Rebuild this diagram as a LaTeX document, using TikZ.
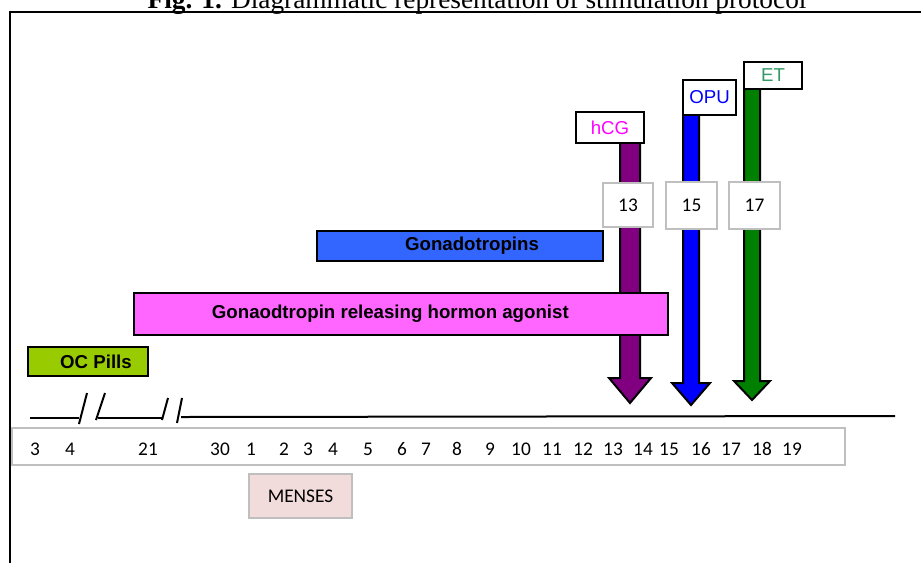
\documentclass[tikz,border=0pt]{standalone}
\usepackage{fontspec}
\setmainfont{Liberation Sans}
\newfontfamily\calfont{Carlito}
\newfontfamily\titlefont{Liberation Serif}

\definecolor{ocgreen}{HTML}{99CC00}
\definecolor{agopink}{HTML}{FF66FF}
\definecolor{gonablue}{HTML}{3366FF}
\definecolor{hcgpurple}{HTML}{800080}
\definecolor{opublue}{HTML}{0000FF}
\definecolor{etgreen}{HTML}{008000}
\definecolor{hcgtext}{HTML}{FF00FF}
\definecolor{ettext}{HTML}{339966}
\definecolor{boxgray}{HTML}{BFBFBF}
\definecolor{mensespink}{HTML}{F2DCDB}

\tikzset{
  bar/.style={draw=black, line width=1pt, inner sep=0pt, font=\bfseries\fontsize{14}{16}\selectfont},
  tag/.style={draw=black, fill=white, line width=1.5pt, inner sep=0pt, font=\fontsize{14}{16}\selectfont},
  graybox/.style={draw=boxgray, line width=1pt, fill=white, inner sep=0pt, font=\calfont\fontsize{14.5}{17}\selectfont},
  daynum/.style={inner sep=0pt, font=\calfont\fontsize{14.5}{17}\selectfont},
  fatarrow/.style={draw=black, line width=1.5pt, line join=miter},
  timeline/.style={line width=1.5pt},
}

\begin{document}
\begin{tikzpicture}[x=0.75pt, y=-0.75pt]
			\useasboundingbox (0,0) rectangle (921,562);
			% frame and caption
			\draw[line width=2pt] (10,600) -- (10,12) -- (940,12);
			\node[anchor=base, inner sep=0pt, font=\titlefont\fontsize{20.5}{24}\selectfont] (title) at (477,8) {\textbf{Fig. 1.} Diagrammatic representation of stimulation protocol};
			
			% arrows
			\draw[fatarrow, fill=hcgpurple] (620,135) -- (640,135) -- (640,378) -- (651,378) -- (630,403) -- (609,378) -- (620,378) -- cycle;
			\draw[fatarrow, fill=opublue] (683,105) -- (699,105) -- (699,383) -- (710,383) -- (691,405) -- (672,383) -- (683,383) -- cycle;
			\draw[fatarrow, fill=etgreen] (744,80) -- (760,80) -- (760,381) -- (770,381) -- (752,400) -- (734,381) -- (744,381) -- cycle;
			
			% labels on top of the arrows
			\node[tag, text=hcgtext, minimum width=51pt, minimum height=23.25pt] (hcg) at (610,127.5) {hCG};
			\node[tag, text=opublue, minimum width=39.75pt, minimum height=26.25pt] (opu) at (709.5,97.5) {OPU};
			\node[tag, text=ettext, minimum width=43.5pt, minimum height=20.25pt] (et) at (773,75.5) {ET};
			
			\node[graybox, minimum width=37.5pt, minimum height=33pt] (d13) at (628,205) {13};
			\node[graybox, minimum width=38.25pt, minimum height=35.25pt] (d15) at (691.5,205.5) {15};
			\node[graybox, minimum width=38.25pt, minimum height=35.25pt] (d17) at (754.5,205.5) {17};
			
			% drug bars
			\node[bar, fill=gonablue, minimum width=214.5pt, minimum height=22.5pt] (gona) at (460,246) {\hspace*{18pt}Gonadotropins};
			\node[bar, fill=agopink, minimum width=400.5pt, minimum height=31.5pt] (agonist) at (401,314) {Gonaodtropin releasing hormon agonist\hspace*{16pt}};
			\node[bar, fill=ocgreen, minimum width=90pt, minimum height=21.75pt] (oc) at (88,361.5) {\hspace*{12pt}OC Pills};
			
			% time line with breaks
			\draw[timeline] (30,418) -- (79,418);
			\draw[timeline] (79,424) -- (87,393);
			\draw[timeline] (96,420) -- (105,393);
			\draw[timeline] (98,418) -- (163,418);
			\draw[timeline] (162,420) -- (168,398);
			\draw[timeline] (177,423) -- (182,398);
			\draw[timeline] (181,417) -- (895,416);
			
			% days
			\node[graybox, minimum width=624.75pt, minimum height=27.75pt] (days) at (428.5,446.5) {};
			\foreach \x/\d in {35/3, 70/4, 148/21, 220/30, 251/1, 284/2, 308/3, 333/4, 368/5, 402/6, 426/7, 457/8, 490/9, 521/10, 552/11, 583/12, 613/13, 643/14, 669/15, 701/16, 731/17, 762/18, 792/19}
				\node[daynum] at (\x,449) {\d};
			
			\node[graybox, fill=mensespink, minimum width=77.25pt, minimum height=33pt] (menses) at (300.5,496) {MENSES};
\end{tikzpicture}
\end{document}
